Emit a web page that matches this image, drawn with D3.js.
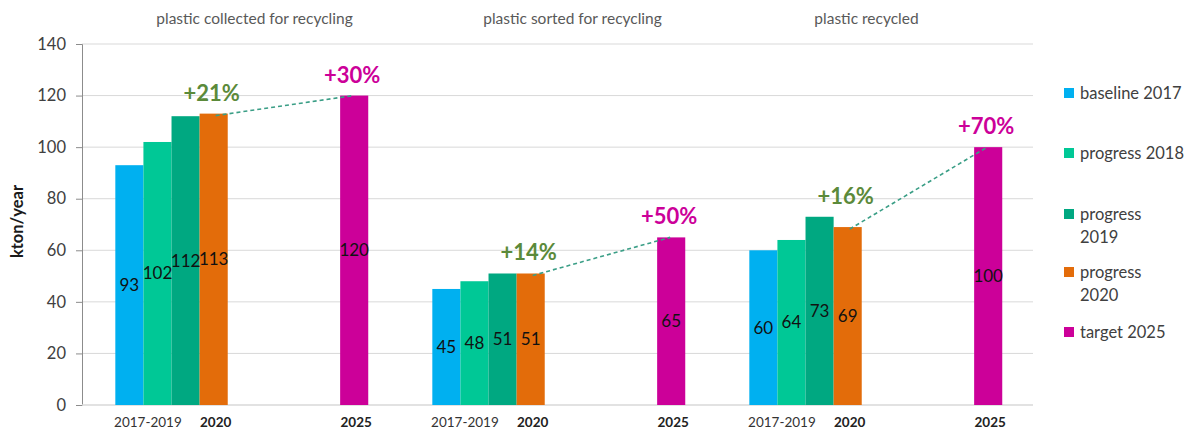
<!DOCTYPE html>
<html>
<head>
<meta charset="utf-8">
<script src="https://cdn.jsdelivr.net/npm/d3@7"></script>
<style>
  html, body { margin: 0; padding: 0; background: #fff; }
  svg { display: block; font-family: Lato, "Open Sans", sans-serif; }
</style>
</head>
<body>
<svg id="chart" width="1194" height="430"></svg>
<script>
// ---- data ----
const panels = ["plastic collected for recycling", "plastic sorted for recycling", "plastic recycled"];
const seriesNames = ["baseline 2017", "progress 2018", "progress 2019", "progress 2020", "target 2025"];
const seriesKeys = ["b2017", "p2018", "p2019", "p2020", "t2025"];
const baseline2017 = [93, 45, 60];
const progress2018 = [102, 48, 64];
const progress2019 = [112, 51, 73];
const progress2020 = [113, 51, 69];
const target2025 = [120, 65, 100];
const progressPct = ["+21%", "+14%", "+16%"];
const targetPct = ["+30%", "+50%", "+70%"];
const xLabels = ["2017-2019", "2020", "2025"];
const yTicks = [0, 20, 40, 60, 80, 100, 120, 140];
const legendLabels = [["baseline 2017"], ["progress 2018"], ["progress", "2019"], ["progress", "2020"], ["target 2025"]];

// ---- style / layout ----
const colors = ["#00b0f0", "#00c896", "#00a881", "#e36c0a", "#cc0099"];
const titleOffsets = [14, 15, -8];
const svg = d3.select("#chart");
const plot = { left: 82, right: 1033, top: 44, bottom: 405 };

const x = d3.scaleBand().domain(panels).range([plot.left, plot.right]).padding(0);
const slots = ["b2017", "p2018", "p2019", "p2020", "g1", "g2", "g3", "g4", "t2025"];
const inner = d3.scaleBand().domain(slots).range([0, x.bandwidth()]).paddingInner(0).paddingOuter(1.14).align(0.52);
const y = d3.scaleLinear().domain([0, 140]).range([plot.bottom, plot.top]);
const bw = inner.bandwidth();

// gridlines
svg.append("g").selectAll("line").data(yTicks.filter(d => d > 0)).join("line")
  .attr("x1", plot.left).attr("x2", plot.right)
  .attr("y1", d => y(d)).attr("y2", d => y(d))
  .attr("stroke", "#d9d9d9").attr("stroke-width", 1);

// y axis
const yAxis = svg.append("g").attr("transform", `translate(${plot.left},0)`)
  .call(d3.axisLeft(y).tickValues(yTicks).tickSize(6).tickPadding(10));
yAxis.select(".domain").attr("stroke", "#8c8c8c");
yAxis.selectAll(".tick line").attr("stroke", "#8c8c8c");
yAxis.selectAll(".tick text").attr("font-size", 16.5).attr("fill", "#404040")
  .attr("font-family", "Lato, sans-serif");
// baseline
svg.append("line").attr("x1", plot.left).attr("x2", plot.right)
  .attr("y1", y(0)).attr("y2", y(0)).attr("stroke", "#d9d9d9").attr("stroke-width", 1.5);

// y title
svg.append("text").attr("transform", `translate(23,${(plot.top + plot.bottom) / 2 - 3}) rotate(-90)`)
  .attr("text-anchor", "middle").attr("font-size", 16.5).attr("font-weight", "bold")
  .attr("fill", "#1a1a1a").text("kton/year");

const allSeries = [baseline2017, progress2018, progress2019, progress2020, target2025];

panels.forEach((p, i) => {
  const g = svg.append("g").attr("transform", `translate(${x(p)},0)`);
  const bars = seriesKeys.map((k, s) => ({ key: k, value: allSeries[s][i], color: colors[s] }));

  g.selectAll("rect").data(bars).join("rect")
    .attr("x", d => inner(d.key)).attr("width", bw)
    .attr("y", d => y(d.value)).attr("height", d => y(0) - y(d.value))
    .attr("fill", d => d.color);

  g.selectAll("text.val").data(bars).join("text").attr("class", "val")
    .attr("x", d => inner(d.key) + bw / 2)
    .attr("y", d => (y(d.value) + y(0)) / 2 + 6)
    .attr("text-anchor", "middle").attr("font-size", 17).attr("fill", "#111")
    .text(d => d.value);

  // dashed connector
  const oTop = y(progress2020[i]);
  const tTop = y(target2025[i]);
  g.append("line")
    .attr("x1", inner("p2020") + bw / 2 + 2).attr("y1", oTop + 2)
    .attr("x2", inner("t2025") + bw / 2 - 1).attr("y2", tTop)
    .attr("stroke", "#3a9e86").attr("stroke-width", 1.6).attr("stroke-dasharray", "4,3");

  // percent labels
  const maxProg = Math.max(baseline2017[i], progress2018[i], progress2019[i], progress2020[i]);
  g.append("text").attr("x", inner("p2020") + bw / 2 - 2).attr("y", y(maxProg) - 13)
    .attr("text-anchor", "middle").attr("font-size", 22).attr("font-weight", "bold")
    .attr("fill", "#5b8a3a").text(progressPct[i]);
  g.append("text").attr("x", inner("t2025") + bw / 2 - 2).attr("y", y(target2025[i]) - 13)
    .attr("text-anchor", "middle").attr("font-size", 22).attr("font-weight", "bold")
    .attr("fill", "#cc0099").text(targetPct[i]);

  // x labels
  g.append("text").attr("x", inner("b2017") + bw * 1.16).attr("y", 427)
    .attr("text-anchor", "middle").attr("font-size", 13.5).attr("fill", "#333").text(xLabels[0]);
  g.append("text").attr("x", inner("p2020") + bw / 2 + 2).attr("y", 427)
    .attr("text-anchor", "middle").attr("font-size", 13.5).attr("font-weight", "bold").attr("fill", "#222").text(xLabels[1]);
  g.append("text").attr("x", inner("t2025") + bw / 2 + 2).attr("y", 427)
    .attr("text-anchor", "middle").attr("font-size", 13.5).attr("font-weight", "bold").attr("fill", "#222").text(xLabels[2]);

  // panel title
  svg.append("text").attr("x", x(p) + x.bandwidth() / 2 + titleOffsets[i]).attr("y", 24)
    .attr("text-anchor", "middle").attr("font-size", 15.5).attr("fill", "#595959").text(p);
});

// legend
const legendY = [93, 153, 214, 272, 332];
const lg = svg.append("g").attr("transform", "translate(1064,0)");
legendLabels.forEach((lines, i) => {
  lg.append("rect").attr("x", 0).attr("y", legendY[i] - 5).attr("width", 10).attr("height", 10).attr("fill", colors[i]);
  const t = lg.append("text").attr("x", 16).attr("y", legendY[i] + 6)
    .attr("font-size", 16.5).attr("fill", "#404040");
  lines.forEach((l, j) => t.append("tspan").attr("x", 16).attr("dy", j === 0 ? 0 : 23).text(l));
});
</script>
</body>
</html>
